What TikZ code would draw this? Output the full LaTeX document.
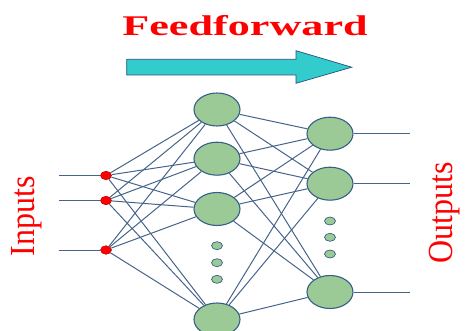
\documentclass[tikz,border=0pt]{standalone}
\usepackage{fontspec}
\setmainfont{Liberation Serif}
\usepackage{graphicx}
\usetikzlibrary{shapes.geometric}
\definecolor{nfill}{RGB}{155,202,150}
\definecolor{nborder}{RGB}{55,95,135}
\definecolor{wire}{RGB}{70,100,138}
\definecolor{arrfill}{RGB}{51,204,204}
\definecolor{arrborder}{RGB}{40,80,130}
\begin{document}
\begin{tikzpicture}[x=1pt,y=-1pt,
  neuron/.style={ellipse, draw=nborder, line width=1.1pt, fill=nfill, minimum width=46pt, minimum height=33pt, inner sep=0pt},
  smalldot/.style={ellipse, draw=nborder, line width=0.7pt, fill=nfill, minimum width=11pt, minimum height=8pt, inner sep=0pt},
  indot/.style={ellipse, draw=red!70!black, line width=0.5pt, fill=red, minimum width=11pt, minimum height=8.5pt, inner sep=0pt},
  wireline/.style={draw=wire, line width=1pt},
  lbl/.style={text=red, inner sep=0pt, font=\fontsize{32}{32}\selectfont}
]
\useasboundingbox (0,0) rectangle (465,331);
\path[clip] (0,0) rectangle (465,331);
% title
\node[text=red, inner sep=0pt, anchor=base, font=\fontsize{28.5}{28.5}\selectfont\bfseries] (title) at (245,36) {\scalebox{1.55}[1]{Feedforward}};
% big arrow
\draw[fill=arrfill, draw=arrborder, line width=0.7pt] (126.7,59.3) -- (296,59.3) -- (296,50.7) -- (351.7,67.2) -- (296,83.3) -- (296,75) -- (126.7,75) -- cycle;
% coordinates
\coordinate (s1) at (59,175.5);
\coordinate (s2) at (59,200.5);
\coordinate (s3) at (59,250);
\coordinate (e1) at (410,133.7);
\coordinate (e2) at (410,183.7);
\coordinate (e3) at (410,292);
% nodes
\node[indot] (i1) at (106,175.5) {};
\node[indot] (i2) at (106,200.5) {};
\node[indot] (i3) at (106,250) {};
\node[neuron] (h1) at (217,109.5) {};
\node[neuron] (h2) at (217,158.7) {};
\node[neuron] (h3) at (217,209) {};
\node[neuron] (h4) at (217,319.5) {};
\node[neuron] (o1) at (330,133.7) {};
\node[neuron] (o2) at (330,183.7) {};
\node[neuron] (o3) at (330,292) {};
\node[smalldot] (hd1) at (217,245.7) {};
\node[smalldot] (hd2) at (217,262.7) {};
\node[smalldot] (hd3) at (217,279.3) {};
\node[smalldot] (od1) at (330,221) {};
\node[smalldot] (od2) at (330,237.3) {};
\node[smalldot] (od3) at (330,254) {};
% wires
\foreach \i in {1,2,3} {
  \draw[wireline] (s\i) -- (i\i);
  \foreach \h in {1,2,3,4} {
    \draw[wireline] (i\i) -- (h\h);
  }
}
\foreach \h in {1,2,3,4} {
  \foreach \o in {1,2,3} {
    \draw[wireline] (h\h) -- (o\o);
  }
}
\foreach \o in {1,2,3} {
  \draw[wireline] (o\o) -- (e\o);
}
% labels
\node[lbl, rotate=90] (inputs) at (27,216) {\scalebox{1}[1.1]{Inputs}};
\node[lbl, rotate=90] (outputs) at (445,213) {\scalebox{1}[1.1]{Outputs}};
\end{tikzpicture}
\end{document}
